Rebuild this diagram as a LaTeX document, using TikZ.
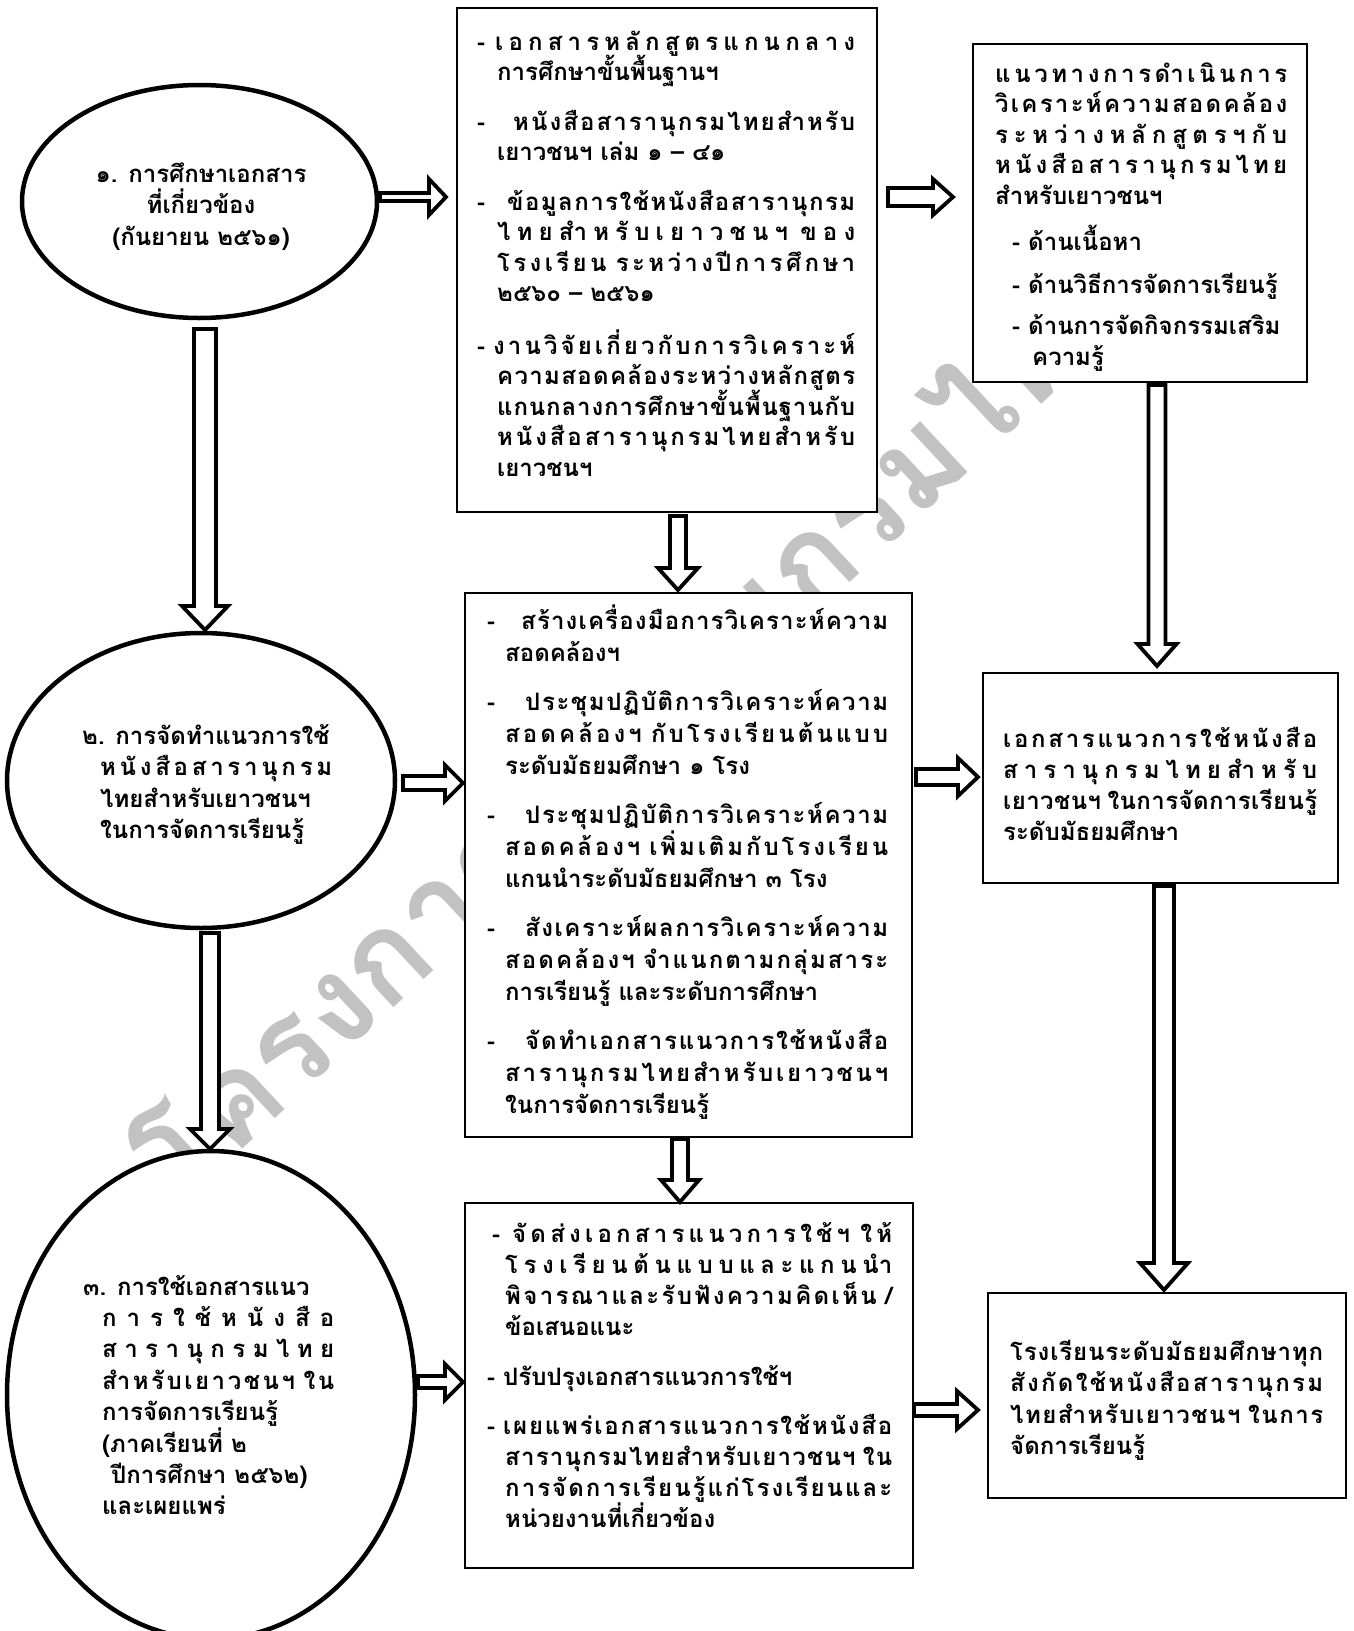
\documentclass[tikz,border=0pt]{standalone}
\usepackage{fontspec}
\usetikzlibrary{shapes.geometric,calc}
\newfontfamily\thaifont[Script=Thai]{Loma}
% inter-character stretch for justified Thai lines
\newcount\thcnt
\newXeTeXintercharclass\ThBase
\newXeTeXintercharclass\ThMark
\thcnt="0E01
\loop\XeTeXcharclass\thcnt=\ThBase\relax\ifnum\thcnt<"0E30 \advance\thcnt by 1 \repeat
\XeTeXcharclass"0E32=\ThBase\relax
\thcnt="0E3F
\loop\XeTeXcharclass\thcnt=\ThBase\relax\ifnum\thcnt<"0E46 \advance\thcnt by 1 \repeat
\thcnt="0E4F
\loop\XeTeXcharclass\thcnt=\ThBase\relax\ifnum\thcnt<"0E5B \advance\thcnt by 1 \repeat
\XeTeXcharclass"0E31=\ThMark\relax
\thcnt="0E33
\loop\XeTeXcharclass\thcnt=\ThMark\relax\ifnum\thcnt<"0E3A \advance\thcnt by 1 \repeat
\thcnt="0E47
\loop\XeTeXcharclass\thcnt=\ThMark\relax\ifnum\thcnt<"0E4E \advance\thcnt by 1 \repeat
\XeTeXinterchartoks\ThBase\ThBase={\hskip0pt plus 1fil\relax}
\XeTeXinterchartoks\ThMark\ThBase={\hskip0pt plus 1fil\relax}
\XeTeXinterchartokenstate=0
% line macros
\newcommand\linN[2][0]{\hbox{\kern#1pt #2}}
\newcommand\linJ[3][0]{\hbox{\kern#1pt\makebox[#2pt][s]{\XeTeXinterchartokenstate=1 \spaceskip=.25em plus 1fil\relax #3}}}
\newcommand\linC[1]{\hbox to 0pt{\hss #1\hss}}
% block arrows
\newcommand\barR[8]{% from, to, y, start gap, end gap, shaft half, head half, head length
  \draw[barrow] let \p1=(#1), \p2=(#2) in
   ({\x1+#4pt},{-#3pt+#6pt}) -- ({\x2-#5pt-#8pt},{-#3pt+#6pt}) -- ({\x2-#5pt-#8pt},{-#3pt+#7pt})
   -- ({\x2-#5pt},{-#3pt}) -- ({\x2-#5pt-#8pt},{-#3pt-#7pt}) -- ({\x2-#5pt-#8pt},{-#3pt-#6pt})
   -- ({\x1+#4pt},{-#3pt-#6pt}) -- cycle;}
\newcommand\barD[8]{% from, to, x, start gap, end gap, shaft half, head half, head length
  \draw[barrow] let \p1=(#1), \p2=(#2) in
   ({#3pt-#6pt},{\y1-#4pt}) -- ({#3pt-#6pt},{\y2+#5pt+#8pt}) -- ({#3pt-#7pt},{\y2+#5pt+#8pt})
   -- ({#3pt},{\y2+#5pt}) -- ({#3pt+#7pt},{\y2+#5pt+#8pt}) -- ({#3pt+#6pt},{\y2+#5pt+#8pt})
   -- ({#3pt+#6pt},{\y1-#4pt}) -- cycle;}
\begin{document}
\begin{tikzpicture}[x=1pt,y=-1pt,
  box/.style={draw=black, line width=1.8pt, fill=white, inner sep=0pt, outer sep=0pt},
  ell/.style={draw=black, ellipse, line width=4.5pt, fill=white, inner sep=0pt, outer sep=0pt},
  barrow/.style={draw=black, line width=3.8pt, fill=white, line join=miter, miter limit=10},
  txt/.style={inner sep=0pt, anchor=base west, font=\thaifont\bfseries\fontsize{24}{31}\selectfont},
  wm/.style={text=black!24, inner sep=0pt, font=\thaifont\bfseries\fontsize{125}{125}\selectfont}]
\fill[white] (0,0) rectangle (1353,1631);
\useasboundingbox (0,0) rectangle (1353,1631);
% watermark
\node[wm, rotate=43] (wm) at (640,735) {โครงการสารานุกรมไทย};
% shapes
\node[ell, minimum width=355pt, minimum height=233pt] (e1) at (199.5,201.5) {};
\node[ell, minimum width=388pt, minimum height=295pt] (e2) at (201,780.5) {};
\node[ell, minimum width=408pt, minimum height=488pt] (e3) at (211,1395) {};
\node[box, minimum width=420pt, minimum height=504pt] (bA) at (667,260) {};
\node[box, minimum width=447pt, minimum height=544pt] (bB) at (688.5,865) {};
\node[box, minimum width=334pt, minimum height=338pt] (bC) at (1140,213) {};
\node[box, minimum width=355pt, minimum height=210pt] (bD) at (1160.5,778) {};
\node[box, minimum width=448pt, minimum height=365pt] (bE) at (689,1385.5) {};
\node[box, minimum width=358pt, minimum height=205pt] (bF) at (1167,1395.5) {};
% arrows
\barR{e1.east}{bA.west}{197}{3}{11}{4}{18}{17}
\barR{bA.east}{bC.west}{197}{11}{20}{9}{18}{20}
\barR{e2.east}{bB.west}{783}{8}{2}{7}{18}{18}
\barR{bB.east}{bD.west}{777}{4}{5}{8}{19}{20}
\barR{e3.east}{bE.west}{1382}{3}{2}{6}{18}{18}
\barR{bE.east}{bF.west}{1410}{1}{10}{6}{19}{21}
\barD{e1.south}{e2.north}{205}{11}{3}{11}{23}{24}
\barD{e2.south}{e3.north}{210}{5}{2}{9}{20}{20}
\barD{bA.south}{bB.north}{678}{4}{3}{8}{20}{22}
\barD{bB.south}{bE.north}{680}{2}{1}{8}{19}{22}
\barD{bC.south}{bD.north}{1157}{3}{7}{8.5}{19.5}{22}
\barD{bD.south}{bF.north}{1164}{3}{3}{10}{24}{27}
% texts
\node[txt, anchor=base] (te1) at (201,182) {\vtop{\baselineskip=31.5pt\lineskiplimit=-50pt
  \linC{๑. การศึกษาเอกสาร}
  \linC{ที่เกี่ยวข้อง}
  \linC{(กันยายน ๒๕๖๑)}}};
\node[txt] (te2) at (82,744) {\vtop{\baselineskip=31.5pt\lineskiplimit=-50pt
  \linN{๒. การจัดทำแนวการใช้}
  \linJ[18]{232}{หนังสือสารานุกรม}
  \linN[18]{ไทยสำหรับเยาวชนฯ}
  \linN[18]{ในการจัดการเรียนรู้}}};
\node[txt] (te3) at (83,1295) {\vtop{\baselineskip=31.4pt\lineskiplimit=-50pt
  \linN{๓. การใช้เอกสารแนว}
  \linJ[19]{232}{การใช้หนังสือ}
  \linJ[19]{232}{สารานุกรมไทย}
  \linJ[19]{232}{สำหรับเยาวชนฯ ใน}
  \linN[19]{การจัดการเรียนรู้}
  \linN[19]{(ภาคเรียนที่ ๒}
  \linN[28]{ปีการศึกษา ๒๕๖๒)}
  \linN[19]{และเผยแพร่}}};
\node[txt] (tA) at (477,50) {\vtop{\baselineskip=30.5pt\lineskiplimit=-50pt
  \linJ{378}{-\hspace{10pt}เอกสารหลักสูตรแกนกลาง}
  \linN[20]{การศึกษาขั้นพื้นฐานฯ}
  \vskip19pt
  \linJ{378}{-\hspace{28pt}หนังสือสารานุกรมไทยสำหรับ}
  \linN[20]{เยาวชนฯ เล่ม ๑ – ๔๑}
  \vskip19pt
  \linJ{378}{-\hspace{22pt}ข้อมูลการใช้หนังสือสารานุกรม}
  \linJ[20]{358}{ไทยสำหรับเยาวชนฯ ของ}
  \linJ[20]{358}{โรงเรียน ระหว่างปีการศึกษา}
  \linN[20]{๒๕๖๐ – ๒๕๖๑}
  \vskip22pt
  \linJ{378}{-\hspace{8pt}งานวิจัยเกี่ยวกับการวิเคราะห์}
  \linJ[20]{358}{ความสอดคล้องระหว่างหลักสูตร}
  \linJ[20]{358}{แกนกลางการศึกษาขั้นพื้นฐานกับ}
  \linJ[20]{358}{หนังสือสารานุกรมไทยสำหรับ}
  \linN[20]{เยาวชนฯ}}};
\node[txt] (tB) at (487,629) {\vtop{\baselineskip=32pt\lineskiplimit=-50pt
  \linJ{401}{-\hspace{26pt}สร้างเครื่องมือการวิเคราะห์ความ}
  \linN[18]{สอดคล้องฯ}
  \vskip17pt
  \linJ{401}{-\hspace{30pt}ประชุมปฏิบัติการวิเคราะห์ความ}
  \linJ[18]{383}{สอดคล้องฯ กับโรงเรียนต้นแบบ}
  \linN[18]{ระดับมัธยมศึกษา ๑ โรง}
  \vskip17pt
  \linJ{401}{-\hspace{30pt}ประชุมปฏิบัติการวิเคราะห์ความ}
  \linJ[18]{383}{สอดคล้องฯ เพิ่มเติมกับโรงเรียน}
  \linN[18]{แกนนำระดับมัธยมศึกษา ๓ โรง}
  \vskip17pt
  \linJ{401}{-\hspace{30pt}สังเคราะห์ผลการวิเคราะห์ความ}
  \linJ[18]{383}{สอดคล้องฯ จำแนกตามกลุ่มสาระ}
  \linN[18]{การเรียนรู้ และระดับการศึกษา}
  \vskip17pt
  \linJ{401}{-\hspace{30pt}จัดทำเอกสารแนวการใช้หนังสือ}
  \linJ[18]{383}{สารานุกรมไทยสำหรับเยาวชนฯ}
  \linN[18]{ในการจัดการเรียนรู้}}};
\node[txt] (tC) at (995,82) {\vtop{\baselineskip=30.5pt\lineskiplimit=-50pt
  \linJ{292}{แนวทางการดำเนินการ}
  \linJ{292}{วิเคราะห์ความสอดคล้อง}
  \linJ{292}{ระหว่างหลักสูตรฯกับ}
  \linJ{292}{หนังสือสารานุกรมไทย}
  \linN{สำหรับเยาวชนฯ}
  \vskip16pt
  \linN[17]{-\hspace{8pt}ด้านเนื้อหา}
  \vskip12pt
  \linN[17]{-\hspace{8pt}ด้านวิธีการจัดการเรียนรู้}
  \vskip11pt
  \linN[17]{-\hspace{8pt}ด้านการจัดกิจกรรมเสริม}
  \linN[37]{ความรู้}}};
\node[txt] (tD) at (1003,747) {\vtop{\baselineskip=31pt\lineskiplimit=-50pt
  \linJ{314}{เอกสารแนวการใช้หนังสือ}
  \linJ{314}{สารานุกรมไทยสำหรับ}
  \linJ{314}{เยาวชนฯ ในการจัดการเรียนรู้}
  \linN{ระดับมัธยมศึกษา}}};
\node[txt] (tE) at (487,1242) {\vtop{\baselineskip=31pt\lineskiplimit=-50pt
  \linJ[5]{400}{-\hspace{12pt}จัดส่งเอกสารแนวการใช้ฯ ให้}
  \linJ[18]{387}{โรงเรียนต้นแบบและแกนนำ}
  \linJ[18]{387}{พิจารณาและรับฟังความคิดเห็น /}
  \linN[18]{ข้อเสนอแนะ}
  \vskip19pt
  \linN{-\hspace{8pt}ปรับปรุงเอกสารแนวการใช้ฯ}
  \vskip18pt
  \linJ{405}{-\hspace{8pt}เผยแพร่เอกสารแนวการใช้หนังสือ}
  \linJ[18]{387}{สารานุกรมไทยสำหรับเยาวชนฯ ใน}
  \linJ[18]{387}{การจัดการเรียนรู้แก่โรงเรียนและ}
  \linN[18]{หน่วยงานที่เกี่ยวข้อง}}};
\node[txt] (tF) at (1010,1360) {\vtop{\baselineskip=31.5pt\lineskiplimit=-50pt
  \linJ{313}{โรงเรียนระดับมัธยมศึกษาทุก}
  \linJ{313}{สังกัดใช้หนังสือสารานุกรม}
  \linJ{313}{ไทยสำหรับเยาวชนฯ ในการ}
  \linN{จัดการเรียนรู้}}};
\end{tikzpicture}
\end{document}
